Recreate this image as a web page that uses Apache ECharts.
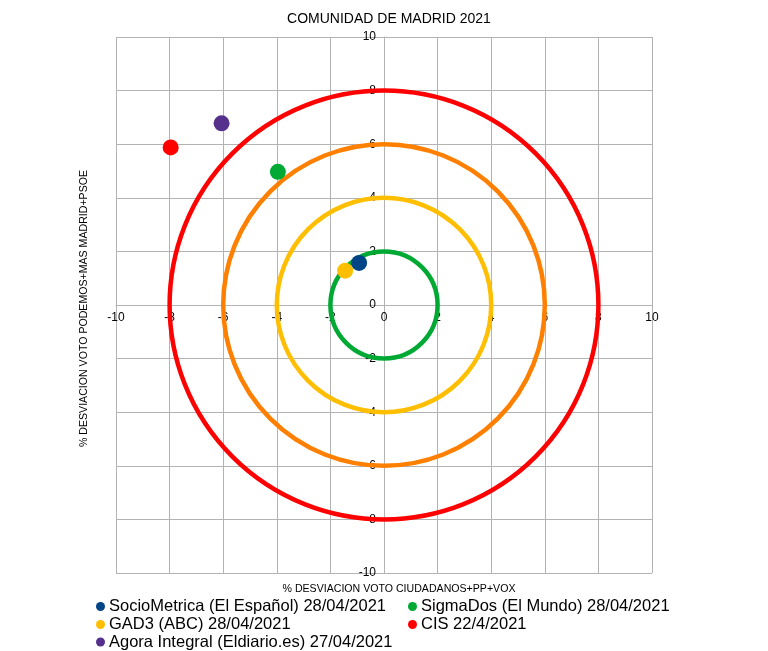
<!DOCTYPE html>
<html>
<head>
<meta charset="utf-8">
<script src="https://cdn.jsdelivr.net/npm/echarts@6/dist/echarts.min.js"></script>
<style>html,body{margin:0;padding:0;background:#fff;}#chart{width:768px;height:651px;}</style>
</head>
<body>
<div id="chart"></div>
<script>
var seriesNames = ['SocioMetrica (El Español) 28/04/2021', 'SigmaDos (El Mundo) 28/04/2021', 'GAD3 (ABC) 28/04/2021', 'CIS 22/4/2021', 'Agora Integral (Eldiario.es) 27/04/2021'];
var seriesColors = ['#004586', '#00a933', '#ffbf00', '#ff0000', '#55308d'];
var xValues = [-0.93, -3.96, -1.45, -7.96, -6.06];
var yValues = [1.57, 4.97, 1.28, 5.88, 6.78];
var ringRadii = [8, 6, 4, 2];
var ringColors = ['#ff0000', '#ff8000', '#ffbf00', '#00a933'];
var axisTicks = [-10, -8, -6, -4, -2, 0, 2, 4, 6, 8, 10];

var FONT = 'Liberation Sans, Arial, sans-serif';
var chart = echarts.init(document.getElementById('chart'));

var series = [{
  type: 'custom',
  name: 'rings',
  silent: true,
  clip: false,
  z: 2,
  data: ringRadii.map(function (r) { return [r, 0]; }),
  renderItem: function (params, api) {
    var c = api.coord([0, 0]);
    var e = api.coord([api.value(0), 0]);
    var r = Math.abs(e[0] - c[0]);
    return {
      type: 'circle',
      shape: { cx: c[0], cy: c[1], r: r },
      style: { fill: 'none', stroke: ringColors[params.dataIndex], lineWidth: 4.5 }
    };
  }
}];
var order = [2, 0, 1, 3, 4];
order.forEach(function (i) {
  series.push({
    type: 'scatter',
    name: seriesNames[i],
    z: 5,
    symbol: 'circle',
    symbolSize: 16,
    itemStyle: { color: seriesColors[i], opacity: 1 },
    data: [[xValues[i], yValues[i]]]
  });
});

var legendPos = [[96, 598], [408, 598], [96, 616], [408, 616], [96, 633.5]];
var legends = seriesNames.map(function (n, i) {
  return {
    data: [{ name: n, icon: 'circle' }],
    left: legendPos[i][0],
    top: legendPos[i][1],
    padding: 0,
    itemWidth: 9,
    itemHeight: 9,
    selectedMode: false,
    textStyle: { fontFamily: FONT, fontSize: 16.5, color: '#000', padding: [0, 0, 0, -1] }
  };
});

chart.setOption({
  animation: false,
  backgroundColor: '#fff',
  color: seriesColors,
  title: {
    text: 'COMUNIDAD DE MADRID 2021',
    left: 384, textAlign: 'center', top: 7,
    textStyle: { fontFamily: FONT, fontSize: 14, fontWeight: 'normal', color: '#000' }
  },
  legend: legends,
  grid: { left: 116, top: 37, width: 536, height: 536 },
  xAxis: {
    type: 'value', min: -10, max: 10, interval: 2,
    offset: -268,
    axisLine: { onZero: false, lineStyle: { color: '#b3b3b3', width: 1 } },
    axisTick: { show: false },
    axisLabel: { color: '#000', fontFamily: FONT, fontSize: 12, margin: 7,
      showMinLabel: true, showMaxLabel: true,
      formatter: function (v) { return axisTicks.indexOf(v) >= 0 ? String(v) : ''; } },
    splitLine: { show: true, lineStyle: { color: '#b3b3b3', width: 1 } }
  },
  yAxis: {
    type: 'value', min: -10, max: 10, interval: 2,
    offset: -268,
    axisLine: { onZero: false, lineStyle: { color: '#b3b3b3', width: 1 } },
    axisTick: { show: false },
    axisLabel: { color: '#000', fontFamily: FONT, fontSize: 12, margin: 8,
      showMinLabel: true, showMaxLabel: true,
      formatter: function (v) { return axisTicks.indexOf(v) >= 0 ? String(v) : ''; } },
    splitLine: { show: true, lineStyle: { color: '#b3b3b3', width: 1 } }
  },
  graphic: [
    { type: 'text', x: 399, y: 589.5,
      style: { text: '% DESVIACION VOTO CIUDADANOS+PP+VOX', font: '10.6px ' + FONT, fill: '#000', align: 'center', verticalAlign: 'middle' } },
    { type: 'text', x: 84.5, y: 308.5, rotation: Math.PI / 2,
      style: { text: '% DESVIACION VOTO PODEMOS+MAS MADRID+PSOE', font: '10.6px ' + FONT, fill: '#000', align: 'center', verticalAlign: 'middle' } }
  ],
  series: series
});
</script>
</body>
</html>
